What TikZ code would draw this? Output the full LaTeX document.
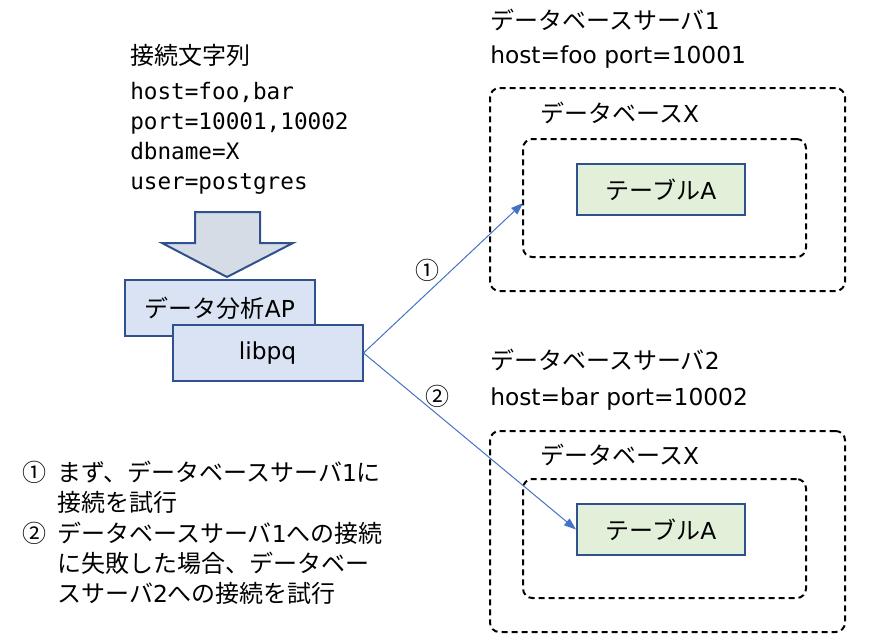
\documentclass[tikz,border=0pt]{standalone}
\usepackage{fontspec}
\setmainfont{Noto Sans CJK JP}
\newfontfamily\monofont{DejaVu Sans Mono}
\newfontfamily\latinfont{DejaVu Sans}
\usepackage{xcolor}
\usepackage{tikz}
\usetikzlibrary{arrows.meta,positioning,calc}
\definecolor{boxBlue}{HTML}{DAE3F3}
\definecolor{boxGreen}{HTML}{E2F0D9}
\definecolor{edgeBlue}{HTML}{2F528F}
\definecolor{lineBlue}{HTML}{4472C4}
\definecolor{arrowGray}{HTML}{D6DCE5}
\newcommand{\lat}[1]{{\latinfont\fontsize{17.5}{22}\selectfont #1}}
\tikzstyle{tsText} = [
    text=black,
    font=\fontsize{18}{22}\selectfont,
    inner sep=0pt
]
\tikzstyle{tsMono} = [
    text=black,
    font=\monofont\fontsize{17}{22.5}\selectfont,
    inner sep=0pt,
    align=left
]
\tikzstyle{tsBox} = [
    rectangle,
    tsText,
    draw=edgeBlue,
    line width=1.5pt,
    text centered
]
\tikzstyle{tsAppBox} = [
    tsBox,
    fill=boxBlue,
    minimum width=142.5pt,
    minimum height=42pt
]
\tikzstyle{tsTableBox} = [
    tsBox,
    fill=boxGreen,
    minimum width=126pt,
    minimum height=38.25pt
]
\tikzstyle{tsDashedBox} = [
    rectangle,
    draw=black,
    line width=1.5pt,
    dash pattern=on 4.5pt off 3pt,
    rounded corners=7pt
]
\tikzstyle{tsLink} = [
    draw=lineBlue,
    line width=0.75pt,
    -{Triangle[length=9pt,width=6.5pt]}
]

\begin{document}
\begin{tikzpicture}[x=0.75pt, y=-0.75pt]
        \useasboundingbox (0,0) rectangle (890,633);

        % Connection string
        \node[tsText, anchor=west] (title) at (130,55) {接続文字列};
        \node[tsMono, anchor=north west] (connstr) at (130,82)
            {host=foo,bar\\port=10001,10002\\dbname=X\\user=postgres};

        % Big arrow
        \draw[draw=edgeBlue, fill=arrowGray, line width=1.5pt, line join=miter]
            (195,212) -- (260,212) -- (260,243) -- (293,243) -- (227,277)
            -- (162,243) -- (195,243) -- cycle;

        % Application
        \node[tsAppBox] (ap) at (220,308) {データ分析\lat{AP}};
        \node[tsAppBox] (lib) at (267.5,353) {\lat{libpq}};

        % Server 1
        \node[tsText, anchor=west] (srvA) at (490,20) {データベースサーバ\lat{1}};
        \node[tsText, anchor=west] (hostA) at (490,57) {\lat{host=foo port=10001}};
        \node[tsDashedBox, minimum width=266.25pt, minimum height=152.25pt] (outerA) at (667.5,189.5) {};
        \node[tsText, anchor=west] (dbA) at (540,113) {データベース\lat{X}};
        \node[tsDashedBox, minimum width=212.25pt, minimum height=88.5pt] (innerA) at (664.5,198) {};
        \node[tsTableBox] (tableA) at (661,189.5) {テーブル\lat{A}};

        % Server 2
        \node[tsText, anchor=west] (srvB) at (490,360) {データベースサーバ\lat{2}};
        \node[tsText, anchor=west] (hostB) at (490,399) {\lat{host=bar port=10002}};
        \node[tsDashedBox, minimum width=266.25pt, minimum height=150.75pt] (outerB) at (667.5,531.5) {};
        \node[tsText, anchor=west] (dbB) at (540,455) {データベース\lat{X}};
        \node[tsDashedBox, minimum width=212.25pt, minimum height=89.25pt] (innerB) at (664.5,538.5) {};
        \node[tsTableBox] (tableB) at (661,529.5) {テーブル\lat{A}};

        % Connections
        \draw[tsLink] (lib.east) -- node[tsText, pos=0.4, above=8pt] (stepA) {①} ($(innerA.west)+(1,5)$);
        \draw[tsLink] (lib.east) -- node[tsText, pos=0.35, above=5pt] (stepB) {②} (tableB.west);

        % Notes
        \node[tsText, anchor=west] (noteNumA) at (22,472) {①};
        \node[tsText, anchor=north west, align=left, font=\fontsize{18}{22.5}\selectfont] (noteA) at (57,461)
            {まず、データベースサーバ\lat{1}に\\接続を試行};
        \node[tsText, anchor=west] (noteNumB) at (22,533) {②};
        \node[tsText, anchor=north west, align=left, font=\fontsize{18}{22.5}\selectfont] (noteB) at (57,522)
            {データベースサーバ\lat{1}への接続\\に失敗した場合、データベー\\スサーバ\lat{2}への接続を試行};

    \end{tikzpicture}
\end{document}
